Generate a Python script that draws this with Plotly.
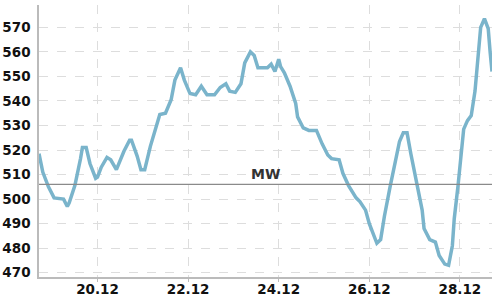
import plotly.graph_objects as go

times = [
    "2023-12-18 17:00", "2023-12-18 19:00", "2023-12-18 22:00", "2023-12-19 01:00",
    "2023-12-19 06:00", "2023-12-19 08:00", "2023-12-19 09:00", "2023-12-19 12:00",
    "2023-12-19 15:00", "2023-12-19 16:00", "2023-12-19 18:00", "2023-12-19 20:00",
    "2023-12-19 23:00", "2023-12-20 00:00", "2023-12-20 02:00", "2023-12-20 05:00",
    "2023-12-20 07:00", "2023-12-20 10:00", "2023-12-20 14:00", "2023-12-20 17:00",
    "2023-12-20 18:00", "2023-12-20 21:00", "2023-12-20 23:00", "2023-12-21 01:00",
    "2023-12-21 04:00", "2023-12-21 07:00", "2023-12-21 09:00", "2023-12-21 12:00",
    "2023-12-21 15:00", "2023-12-21 17:00", "2023-12-21 20:00", "2023-12-21 22:00",
    "2023-12-22 01:00", "2023-12-22 04:00", "2023-12-22 07:00", "2023-12-22 10:00",
    "2023-12-22 14:00", "2023-12-22 17:00", "2023-12-22 20:00", "2023-12-22 22:00",
    "2023-12-23 01:00", "2023-12-23 04:00", "2023-12-23 06:00", "2023-12-23 09:00",
    "2023-12-23 11:00", "2023-12-23 13:00", "2023-12-23 18:00", "2023-12-23 20:00",
    "2023-12-23 22:00", "2023-12-24 00:00", "2023-12-24 01:00", "2023-12-24 03:00",
    "2023-12-24 06:00", "2023-12-24 09:00", "2023-12-24 10:00", "2023-12-24 13:00",
    "2023-12-24 16:00", "2023-12-24 20:00", "2023-12-24 23:00", "2023-12-25 02:00",
    "2023-12-25 04:00", "2023-12-25 08:00", "2023-12-25 10:00", "2023-12-25 13:00",
    "2023-12-25 17:00", "2023-12-25 19:00", "2023-12-25 22:00", "2023-12-26 00:00",
    "2023-12-26 04:00", "2023-12-26 06:00", "2023-12-26 08:00", "2023-12-26 11:00",
    "2023-12-26 14:00", "2023-12-26 16:00", "2023-12-26 18:00", "2023-12-26 20:00",
    "2023-12-26 22:00", "2023-12-27 01:00", "2023-12-27 04:00", "2023-12-27 05:00",
    "2023-12-27 08:00", "2023-12-27 11:00", "2023-12-27 13:00", "2023-12-27 16:00",
    "2023-12-27 18:00", "2023-12-27 20:00", "2023-12-27 21:00", "2023-12-27 23:00",
    "2023-12-28 01:00", "2023-12-28 02:00", "2023-12-28 04:00", "2023-12-28 06:00",
    "2023-12-28 08:00", "2023-12-28 10:00", "2023-12-28 11:00", "2023-12-28 13:00",
    "2023-12-28 15:00", "2023-12-28 16:00", "2023-12-28 17:00",
]
values = [
    518.5, 511, 505, 500.5,
    500, 497, 498.5, 505.5,
    516.5, 521, 521, 514.5,
    508.5, 509, 513, 517,
    516, 512, 519.5, 524,
    524, 517.5, 512, 512,
    521.5, 530, 534.5, 535,
    540.5, 548.5, 553.5, 548.5,
    543, 542.5, 546, 542.5,
    542.5, 545.5, 547, 544,
    543.5, 547, 555.5, 560,
    558.5, 553.5, 553.5, 555,
    552, 557, 554, 551.5,
    546, 539, 533.5, 529,
    528, 528, 522.5, 518,
    516.5, 516, 510.5, 505.5,
    500.5, 499, 495.5, 490,
    482, 483.5, 493, 505,
    516, 523.5, 527, 527,
    518.5, 506.5, 495.5, 488,
    483.5, 482.5, 477, 473.5,
    473, 481, 492, 505.5,
    522, 528.5, 532, 534,
    544, 560, 570, 573.5,
    569.5, 560, 552,
]

mean_value = 506
mean_label = "MW"
x_range = ["2023-12-18 17:00", "2023-12-28 17:00"]
y_range = [468.25, 579.1]
x_ticks = ["2023-12-20", "2023-12-22", "2023-12-24", "2023-12-26", "2023-12-28"]
x_tick_labels = ["20.12", "22.12", "24.12", "26.12", "28.12"]
y_ticks = [470, 480, 490, 500, 510, 520, 530, 540, 550, 560, 570]

fig = go.Figure()
fig.add_trace(go.Scatter(
    x=times, y=values, mode="lines",
    line=dict(color="#7ab4cb", width=3.5),
    hoverinfo="skip", showlegend=False,
))

fig.add_shape(type="line", xref="paper", x0=0, x1=1, yref="y",
              y0=mean_value, y1=mean_value,
              line=dict(color="#8a8a8a", width=1.2))
fig.add_annotation(xref="paper", x=0.5, yref="y", y=mean_value,
                   text=mean_label, showarrow=False, yanchor="bottom",
                   yshift=0,
                   font=dict(family="DejaVu Sans", size=14, color="#333333", weight="bold"))

fig.update_layout(
    width=500, height=300,
    margin=dict(l=39, r=8, t=5, b=23),
    paper_bgcolor="white", plot_bgcolor="white",
    font=dict(family="DejaVu Sans", size=13.5, color="#111111", weight="bold"),
)
fig.update_xaxes(
    range=x_range, tickvals=x_ticks, ticktext=x_tick_labels,
    showgrid=True, gridcolor="#dddddd", griddash="dash", gridwidth=1,
    showline=True, linecolor="#bbbbbb", linewidth=1.5,
    ticks="outside", ticklen=3, tickcolor="#bbbbbb",
    ticklabelstandoff=-4,
    tickfont=dict(family="DejaVu Sans", size=13.5, color="#111111", weight="bold"),
    zeroline=False, automargin=False,
)
fig.update_yaxes(
    range=y_range, tickvals=y_ticks,
    showgrid=True, gridcolor="#dddddd", griddash="dash", gridwidth=1,
    showline=True, linecolor="#bbbbbb", linewidth=1.5,
    ticks="", ticklabelstandoff=4,
    tickfont=dict(family="DejaVu Sans", size=13.5, color="#111111", weight="bold"),
    zeroline=False, automargin=False,
)

fig.write_html("out.html")
